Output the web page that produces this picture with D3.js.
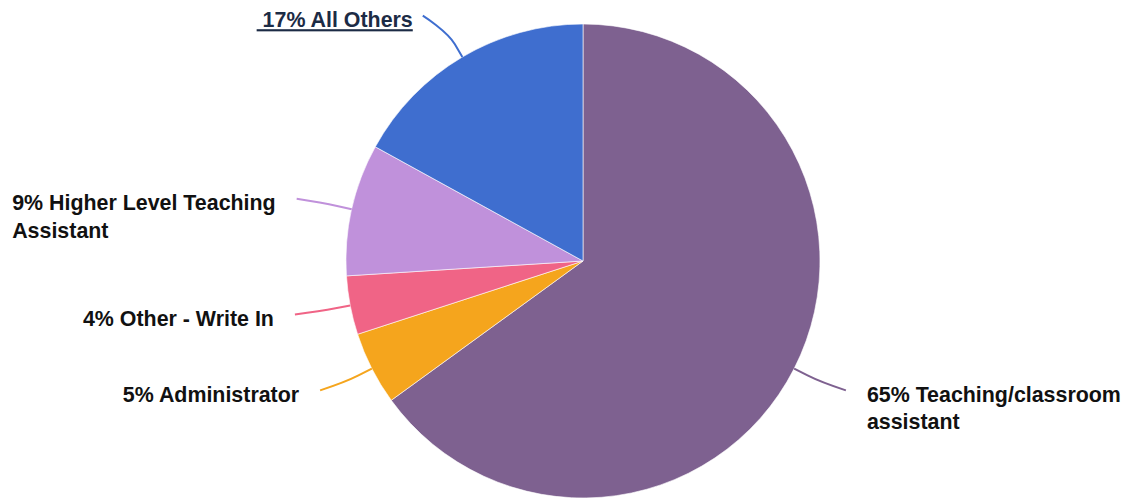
<!DOCTYPE html>
<html>
<head>
<meta charset="utf-8">
<script src="https://cdn.jsdelivr.net/npm/d3@7"></script>
<style>
  html, body { margin: 0; padding: 0; background: #fff; }
  svg text { font-family: "Liberation Sans", Arial, sans-serif; font-weight: bold; font-size: 21.4px; white-space: pre; }
</style>
</head>
<body>
<script>
// ---- data ----
const categories = ["Teaching/classroom assistant", "Administrator", "Other - Write In", "Higher Level Teaching Assistant", "All Others"];
const values = [65, 5, 4, 9, 17];
const colors = ["#7E6190", "#F5A51D", "#F06486", "#C091DB", "#3F6ECF"];
const highlighted = "All Others";

// ---- layout ----
const W = 1130, H = 500;
const cx = 583, cy = 261, r = 237;
const labelYRadius = 285, labelXRadius = 293, breakOffset = 15;

const svg = d3.select("body").append("svg").attr("width", W).attr("height", H);
const g = svg.append("g").attr("transform", `translate(${cx},${cy})`);

const pie = d3.pie().sort(null).value(d => d);
const arcs = pie(values);
const arc = d3.arc().innerRadius(0).outerRadius(r);

g.selectAll("path.slice").data(arcs).join("path")
  .attr("class", "slice")
  .attr("d", arc)
  .attr("fill", (d, i) => colors[i])
  .attr("stroke", "#ffffff")
  .attr("stroke-width", 0.6);

arcs.forEach((d, i) => {
  const a = (d.startAngle + d.endAngle) / 2;
  const s = Math.sin(a), c = -Math.cos(a);
  const side = s >= 0 ? 1 : -1;
  const E = [r * s, r * c];
  const B = [(r + breakOffset) * s, (r + breakOffset) * c];
  const ly = labelYRadius * c;
  const lx = side * Math.sqrt(labelXRadius * labelXRadius - ly * ly);
  const C2 = [2 * B[0] - E[0], 2 * B[1] - E[1]];
  const path = d3.path();
  path.moveTo(lx, ly);
  path.bezierCurveTo(lx, ly, C2[0], C2[1], B[0], B[1]);
  path.lineTo(E[0], E[1]);
  g.append("path").attr("d", path.toString())
    .attr("fill", "none").attr("stroke", colors[i]).attr("stroke-width", 2);

  const isHi = categories[i] === highlighted;
  const txt = (isHi ? " " : "") + values[i] + "% " + categories[i];
  const gap = isHi ? 10 : 21;
  const maxW = side > 0 ? (W - cx) - (lx + gap) - 3 : (cx + lx) - gap - 3;

  const t = g.append("text").attr("fill", isHi ? "#1c2b45" : "#111111")
    .attr("text-decoration", isHi ? "underline" : null);
  const words = txt.split(" ");
  const lines = [];
  let cur = "";
  const probe = t.append("tspan");
  words.forEach((w, wi) => {
    const test = cur === "" && wi === 0 ? w : cur + " " + w;
    probe.text(test);
    if (probe.node().getComputedTextLength() > maxW && cur !== "") {
      lines.push(cur);
      cur = w;
    } else {
      cur = test;
    }
  });
  lines.push(cur);
  probe.remove();

  const spans = lines.map((ln, li) => t.append("tspan").text(ln)
    .attr("dy", li === 0 ? 0 : 27.5));
  let widest = 0;
  spans.forEach(sp => { widest = Math.max(widest, sp.node().getComputedTextLength()); });
  const x0 = side > 0 ? lx + gap : lx - gap - widest;
  t.attr("y", ly + 11.5);
  spans.forEach(sp => sp.attr("x", x0));
});
</script>
</body>
</html>
